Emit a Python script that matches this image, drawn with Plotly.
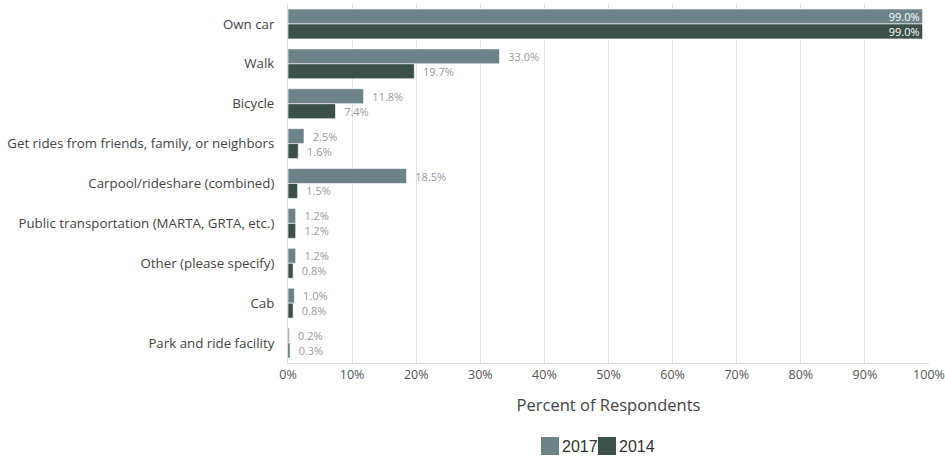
import plotly.graph_objects as go

categories = ["Own car", "Walk", "Bicycle", "Get rides from friends, family, or neighbors",
              "Carpool/rideshare (combined)", "Public transportation (MARTA, GRTA, etc.)",
              "Other (please specify)", "Cab", "Park and ride facility"]
values_2017 = [99.0, 33.0, 11.8, 2.5, 18.5, 1.2, 1.2, 1.0, 0.2]
values_2014 = [99.0, 19.7, 7.4, 1.6, 1.5, 1.2, 0.8, 0.8, 0.3]
series_names = ["2017", "2014"]
x_ticks = [0, 10, 20, 30, 40, 50, 60, 70, 80, 90, 100]
x_tick_labels = [f"{t}%" for t in x_ticks]

FONT = "Open Sans"
LABEL_GRAY = "#9a9a9a"
COLORS = {"2017": "#6c8487", "2014": "#3b5049"}

W, H = 945, 458
ML, MR, MT, MB = 288, 16, 4, 95
PW, PH = W - ML - MR, H - MT - MB


def px_x(px):
    return (px - ML) / PW


def px_y(py):
    return (H - MB - py) / PH


def text_pos(vals):
    return ["inside" if v > 90 else "outside" for v in vals]


def text_colors(vals):
    return ["#ffffff" if v > 90 else LABEL_GRAY for v in vals]


def templates(vals):
    return ["%{x:.1f}%" if v > 90 else "\u00a0\u00a0%{x:.1f}%" for v in vals]


fig = go.Figure()
for name, vals in zip(series_names, [values_2017, values_2014]):
    fig.add_trace(go.Bar(
        y=categories, x=vals, name=name, orientation="h",
        marker=dict(color=COLORS[name], line=dict(color="#ffffff", width=0.6)),
        texttemplate=templates(vals),
        textposition=text_pos(vals),
        insidetextanchor="end",
        textfont=dict(family=FONT, size=11, color=text_colors(vals)),
        cliponaxis=False,
        hoverinfo="skip",
        showlegend=False,
    ))

# compact legend: square swatch immediately followed by its label
legend_left = 541
sw = 18
item_step = 57
for i, name in enumerate(series_names):
    x0 = legend_left + i * item_step
    fig.add_shape(type="rect", xref="paper", yref="paper",
                  x0=px_x(x0), x1=px_x(x0 + sw), y0=px_y(455), y1=px_y(437),
                  fillcolor=COLORS[name], line=dict(width=0))
    fig.add_annotation(xref="paper", yref="paper", x=px_x(x0 + sw + 1), y=px_y(446),
                       xanchor="left", yanchor="middle", showarrow=False, text=name,
                       font=dict(family="Liberation Sans, Arial", size=16, color="#333333"))

fig.update_layout(
    width=W, height=H,
    margin=dict(l=ML, r=MR, t=MT, b=MB, autoexpand=False),
    paper_bgcolor="#ffffff", plot_bgcolor="#ffffff",
    barmode="group", bargap=0.25, bargroupgap=0,
    font=dict(family=FONT, color="#555555"),
    uniformtext=dict(minsize=11, mode="show"),
    showlegend=False,
    xaxis=dict(range=[0, 100], tickvals=x_ticks, ticktext=x_tick_labels, automargin=False,
               showgrid=True, gridcolor="#e2e2e2", gridwidth=1,
               showline=True, linecolor="#dddddd", linewidth=1,
               zeroline=False, ticks="", tickfont=dict(size=12.5, color="#555555"),
               title=dict(text="Percent of Respondents", font=dict(size=16.5, color="#444444"), standoff=17)),
    yaxis=dict(autorange="reversed", showgrid=False, showline=True, linecolor="#dddddd",
               automargin=False,
               ticks="", ticklabelstandoff=10, tickfont=dict(size=13.3, color="#444444")),
)

fig.write_html("out.html", config={"displayModeBar": False},
               post_script="document.body.style.margin='0px';")
